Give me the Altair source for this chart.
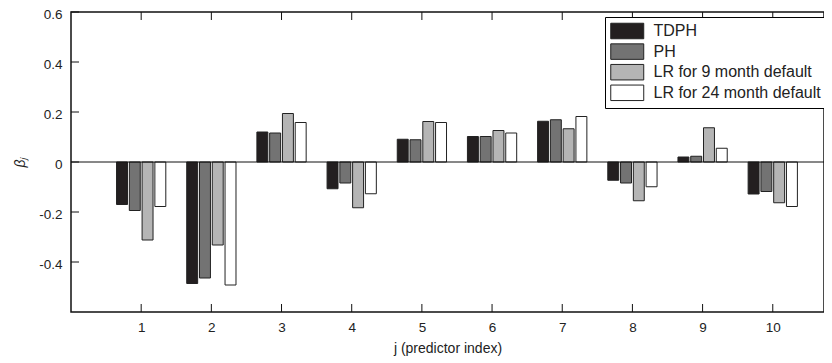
import altair as alt
import pandas as pd

predictors = [1, 2, 3, 4, 5, 6, 7, 8, 9, 10]
series = ["TDPH", "PH", "LR for 9 month default", "LR for 24 month default"]
tdph = [-0.170, -0.486, 0.120, -0.107, 0.091, 0.102, 0.163, -0.073, 0.020, -0.128]
ph = [-0.194, -0.464, 0.116, -0.084, 0.089, 0.102, 0.169, -0.084, 0.023, -0.118]
lr9 = [-0.312, -0.332, 0.194, -0.183, 0.162, 0.126, 0.133, -0.155, 0.137, -0.163]
lr24 = [-0.178, -0.492, 0.158, -0.127, 0.158, 0.116, 0.182, -0.099, 0.055, -0.178]
colors = ["#231f20", "#737373", "#b5b5b5", "#ffffff"]
y_ticks = [-0.4, -0.2, 0, 0.2, 0.4, 0.6]

rows = []
for k, (name, vals) in enumerate(zip(series, [tdph, ph, lr9, lr24])):
    for j, v in zip(predictors, vals):
        rows.append({"j": j, "series": name, "k": k, "value": v})
df = pd.DataFrame(rows)

W, H = 753, 300
xscale = alt.Scale(domain=[0, 10.73], nice=False, zero=False)
yscale = alt.Scale(domain=[-0.6, 0.6], nice=False)
FONT = "Liberation Sans"

bars = alt.Chart(df).transform_calculate(
    x1="datum.j + (datum.k - 1.5) * 0.182 - 0.078",
    x2="datum.j + (datum.k - 1.5) * 0.182 + 0.078",
).mark_bar(stroke="#222222", strokeWidth=1).encode(
    x=alt.X("x1:Q", scale=xscale,
            axis=alt.Axis(values=predictors, format="d", title="j (predictor index)",
                          grid=False, ticks=False, domain=False, labelPadding=8,
                          titlePadding=8)),
    x2="x2:Q",
    y=alt.Y("value:Q", scale=yscale, stack=None,
            axis=alt.Axis(values=y_ticks, title="βⱼ", grid=False, ticks=False,
                          domain=False, labelPadding=9, titlePadding=11,
                          labelOffset=2, titleFontStyle="italic",
                          labelExpr="replace(format(datum.value, '.1~f'), '\u2212', '-')")),
    y2=alt.datum(0),
    fill=alt.Fill("series:N", sort=series,
                  scale=alt.Scale(domain=series, range=colors),
                  legend=alt.Legend(title=None, orient="none", legendX=534, legendY=5,
                                    symbolType="M-1,-0.94H3V0.94H-1Z", symbolSize=272,
                                    symbolStrokeColor="#222222", symbolStrokeWidth=1,
                                    labelFontSize=16, labelFont=FONT, labelColor="#222222",
                                    labelOffset=25.5, labelLimit=400, rowPadding=0.6,
                                    strokeColor="#000000", fillColor="#ffffff",
                                    padding=5)),
)

zero = alt.Chart(pd.DataFrame({"z": [0]})).mark_rule(color="#111111", strokeWidth=1).encode(
    y=alt.Y("z:Q", scale=yscale)
)

ytick_df = pd.DataFrame({"v": y_ticks})
yticks = alt.Chart(ytick_df).mark_rule(color="#111111", strokeWidth=1).encode(
    y=alt.Y("v:Q", scale=yscale), x=alt.value(0), x2=alt.value(8)
)
xtick_df = pd.DataFrame({"v": predictors})
xticks_bottom = alt.Chart(xtick_df).mark_rule(color="#111111", strokeWidth=1).encode(
    x=alt.X("v:Q", scale=xscale), y=alt.value(H), y2=alt.value(H - 8)
)
xticks_top = alt.Chart(xtick_df).mark_rule(color="#111111", strokeWidth=1).encode(
    x=alt.X("v:Q", scale=xscale), y=alt.value(0), y2=alt.value(8)
)

chart = alt.layer(bars, zero, yticks, xticks_bottom, xticks_top).properties(
    width=W, height=H,
    autosize=alt.AutoSizeParams(type="none"),
    padding={"left": 63, "top": 4, "right": 0, "bottom": 50},
).configure_view(
    stroke="#111111", strokeWidth=1.5
).configure_axis(
    labelFont=FONT, labelFontSize=13.5, labelColor="#222222",
    titleFont=FONT, titleFontSize=14, titleColor="#222222", titleFontWeight="normal",
)

chart.save("out.html", embed_options={"renderer": "svg", "actions": False})
